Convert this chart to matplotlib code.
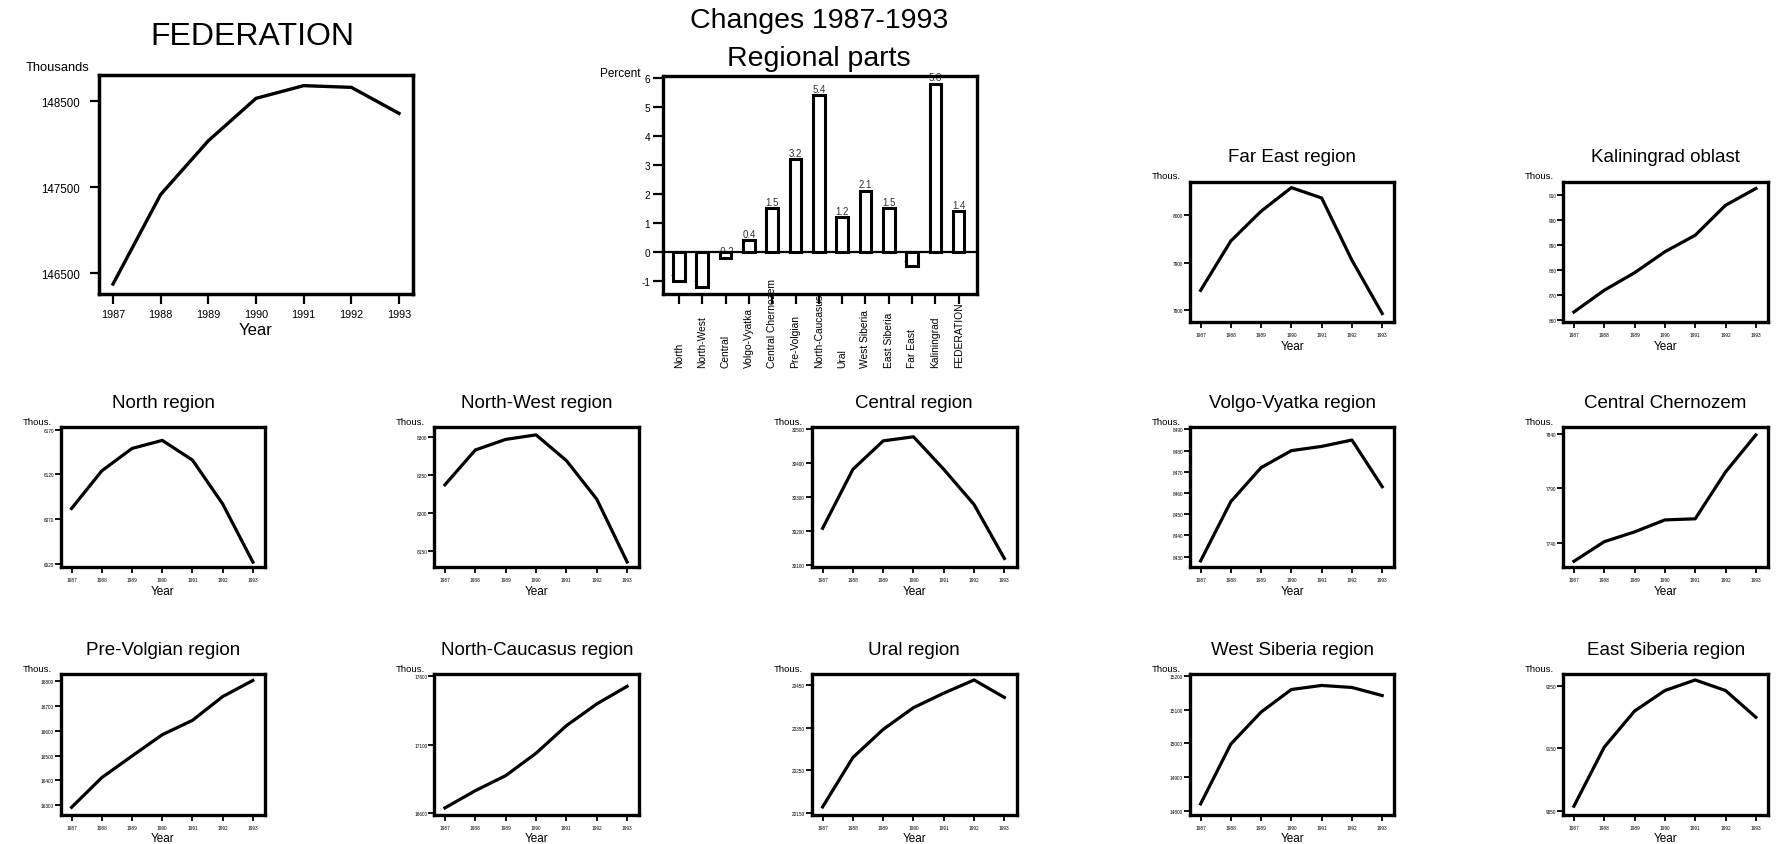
import matplotlib
matplotlib.use("Agg")
import matplotlib.pyplot as plt
from matplotlib.transforms import blended_transform_factory

plt.rcParams['font.family'] = ['Liberation Sans', 'DejaVu Sans']
plt.rcParams['axes.unicode_minus'] = False

# ---- data -------------------------------------------------------------
years = [1987, 1988, 1989, 1990, 1991, 1992, 1993]

federation = [146372, 147415, 148041, 148535, 148683, 148663, 148360]
north = [6082, 6124, 6149, 6158, 6136, 6087, 6022]
north_west = [8237, 8283, 8297, 8303, 8269, 8218, 8135]
central = [30207, 30381, 30465, 30477, 30381, 30277, 30118]
volgo_vyatka = [8428, 8456, 8472, 8480, 8482, 8485, 8463]
central_chernozem = [7723, 7741, 7750, 7761, 7762, 7805, 7839]
pre_volgian = [16291, 16411, 16498, 16584, 16642, 16738, 16803]
north_caucasus = [16637, 16763, 16873, 17037, 17239, 17398, 17527]
ural = [20164, 20280, 20346, 20397, 20431, 20462, 20421]
west_siberia = [14820, 14998, 15093, 15160, 15172, 15166, 15142]
east_siberia = [9057, 9152, 9210, 9243, 9260, 9243, 9200]
far_east = [7841, 7946, 8009, 8059, 8037, 7905, 7792]
kaliningrad = [863.3, 872.0, 879.0, 887.4, 894.0, 906.0, 912.7]

region_names = ["North", "North-West", "Central", "Volgo-Vyatka",
                "Central Chernozem", "Pre-Volgian", "North-Caucasus", "Ural",
                "West Siberia", "East Siberia", "Far East", "Kaliningrad",
                "FEDERATION"]
change_pct = [-1.0, -1.2, -0.2, 0.4, 1.5, 3.2, 5.4, 1.2, 2.1, 1.5, -0.5, 5.8, 1.4]

# ---- figure -----------------------------------------------------------
W, H = 1787, 845
fig = plt.figure(figsize=(W / 100, H / 100), dpi=100)


def px_axes(l, t, r, b):
    return fig.add_axes([l / W, 1 - b / H, (r - l) / W, (b - t) / H])


def fig_text(x, y, s, **kw):
    return fig.text(x / W, 1 - y / H, s, **kw)


# ---- FEDERATION panel -------------------------------------------------
ax = px_axes(98.7, 76, 413.3, 295)
ax.plot(years, federation, color='black', lw=2.4)
ax.set_xlim(1986.7, 1993.3)
ax.set_ylim(146256, 148807)
ax.set_xticks(years)
ax.set_yticks([146500, 147500, 148500])
for s in ax.spines.values():
    s.set_linewidth(2.5)
ax.tick_params(axis='y', direction='out', length=6.3, width=1.6, labelsize=8.3, pad=7)
ax.tick_params(axis='x', direction='out', length=7, width=1.6, labelsize=7.8, pad=3.5)
fig_text(252, 45, "FEDERATION", fontsize=23, ha='center', va='baseline')
fig_text(58, 71, "Thousands", fontsize=9.3, ha='center', va='baseline')
fig_text(256, 335, "Year", fontsize=12, ha='center', va='baseline')

# ---- bar chart of changes --------------------------------------------
bl, bt, br, bb = 662.7, 76.7, 977.3, 295.3
axb = px_axes(bl, bt, br, bb)
pos = list(range(len(region_names)))
axb.bar(pos, change_pct, width=0.5, facecolor='white', edgecolor='black',
        linewidth=2.2, zorder=3)
axb.axhline(0, color='black', lw=1.6, zorder=2)
for i, v in zip(pos, change_pct):
    axb.annotate(f"{v:.1f}", (i, v), xytext=(0, 1.2), textcoords='offset points',
                 ha='center', va='bottom', fontsize=7, color='#333333', zorder=1)
axb.set_xlim(-0.7, 12.8)
axb.set_ylim(-1.46, 6.08)
axb.set_yticks(range(-1, 7))
axb.set_xticks(pos)
axb.set_xticklabels([])
for s in axb.spines.values():
    s.set_linewidth(2.4)
axb.tick_params(axis='y', direction='out', length=7, width=1.6, labelsize=7.2, pad=2)
axb.tick_params(axis='x', direction='out', length=7, width=1.6)
trans = blended_transform_factory(axb.transData, fig.transFigure)
for i, name in zip(pos, region_names):
    axb.text(i, 1 - 368 / H, name, transform=trans, rotation=90,
             ha='center', va='bottom', fontsize=7.4, zorder=5, clip_on=False)
fig_text(819, 28.3, "Changes 1987-1993", fontsize=20.5, ha='center', va='baseline')
fig_text(819, 66, "Regional parts", fontsize=20.5, ha='center', va='baseline')
fig_text(620, 76.7, "Percent", fontsize=8.5, ha='center', va='baseline')

# ---- regional panels --------------------------------------------------
cols = [(61, 265), (434.3, 639.3), (812, 1016.5), (1190, 1394.3), (1563.3, 1768)]
rows = [(182.5, 323), (428.3, 568.3), (675, 816)]

panels = [
    (0, 3, "Far East region", far_east, [7800, 7900, 8000], (7774, 8072)),
    (0, 4, "Kaliningrad oblast", kaliningrad, [860, 870, 880, 890, 900, 910], (859.3, 915.5)),
    (1, 0, "North region", north, [6020, 6070, 6120, 6170], (6016.3, 6172.6)),
    (1, 1, "North-West region", north_west, [8150, 8200, 8250, 8300], (8128, 8313)),
    (1, 2, "Central region", central, [30100, 30200, 30300, 30400, 30500], (30092, 30505)),
    (1, 3, "Volgo-Vyatka region", volgo_vyatka,
     [8430, 8440, 8450, 8460, 8470, 8480, 8490], (8425, 8491)),
    (1, 4, "Central Chernozem", central_chernozem, [7740, 7790, 7840], (7717.5, 7846)),
    (2, 0, "Pre-Volgian region", pre_volgian,
     [16300, 16400, 16500, 16600, 16700, 16800], (16260, 16829)),
    (2, 1, "North-Caucasus region", north_caucasus, [16600, 17100, 17600], (16585, 17617)),
    (2, 2, "Ural region", ural, [20150, 20250, 20350, 20450], (20145, 20476)),
    (2, 3, "West Siberia region", west_siberia,
     [14800, 14900, 15000, 15100, 15200], (14787, 15206)),
    (2, 4, "East Siberia region", east_siberia, [9050, 9150, 9250], (9042.8, 9269.6)),
]

for r, c, title, vals, yt, yl in panels:
    l, rr = cols[c]
    t, b = rows[r]
    a = px_axes(l, t, rr, b)
    a.plot(years, vals, color='black', lw=2.3)
    a.set_xlim(1986.65, 1993.4)
    a.set_ylim(*yl)
    a.set_xticks(years)
    a.set_yticks(yt)
    for s in a.spines.values():
        s.set_linewidth(2.4)
    a.tick_params(axis='both', direction='out', length=4.2, width=1.3, labelsize=3.4)
    a.tick_params(axis='x', pad=3)
    a.tick_params(axis='y', pad=0.8)
    cx = (l + rr) / 2
    fig_text(cx, t - 20, title, fontsize=13.5, ha='center', va='baseline')
    fig_text(cx, b + 26.5, "Year", fontsize=8.5, ha='center', va='baseline')
    fig_text(l - 24, t - 3.3, "Thous.", fontsize=6.8, ha='center', va='baseline')

fig.savefig("out.png", dpi=100, facecolor='white')
